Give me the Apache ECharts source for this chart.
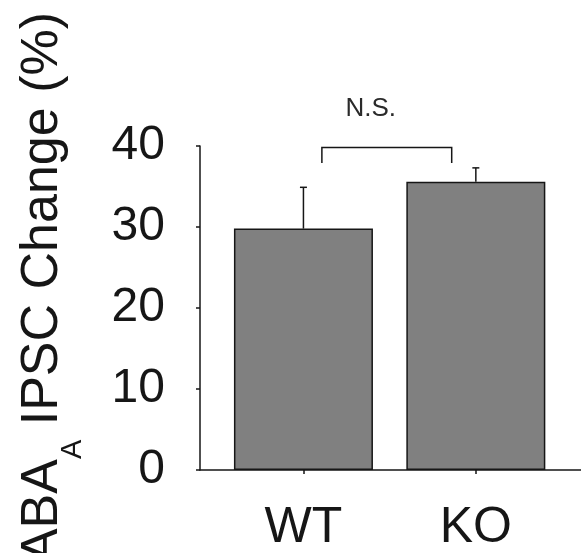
<!DOCTYPE html>
<html>
<head>
<meta charset="utf-8">
<script src="https://cdn.jsdelivr.net/npm/echarts@6/dist/echarts.min.js"></script>
<style>
  html, body { margin: 0; padding: 0; background: #ffffff; }
  #chart { width: 581px; height: 553px; }
</style>
</head>
<body>
<div id="chart"></div>
<script>
// Groups and their positions on the x axis
const categories = ['WT', 'KO'];
const categoryPos = [1, 2];

// Mean GABA-A IPSC change (%) and the upper error (SEM)
const meanChange = [29.8, 35.6];
const semChange = [5.1, 1.7];

// Y-axis tick values
const yTicks = [0, 10, 20, 30, 40];

// Significance annotation between the two groups
const sigLabel = 'N.S.';
const sigBracketX = [1.107, 1.86];
const sigBracketY = [37.9, 39.8];
const sigLabelPos = [1.39, 44.6];

const ink = '#161616';
const fontFamily = '"Liberation Sans", Arial, sans-serif';

const chart = echarts.init(document.getElementById('chart'), null, { renderer: 'canvas' });

const barData = categoryPos.map((x, i) => [x, meanChange[i]]);
const errData = categoryPos.map((x, i) => [x, meanChange[i], semChange[i]]);

chart.setOption({
  backgroundColor: '#ffffff',
  animation: false,
  grid: { left: 200, right: 0, top: 146, bottom: 81, containLabel: false },
  xAxis: {
    type: 'value',
    min: 0.4,
    max: 2.61,
    splitLine: { show: false },
    axisLine: { show: true, lineStyle: { color: ink, width: 1.5 } },
    axisTick: { show: true, customValues: categoryPos, length: 4, inside: false, lineStyle: { color: ink, width: 1.5 } },
    axisLabel: {
      show: true,
      customValues: categoryPos,
      margin: 33,
      fontSize: 50,
      fontFamily: fontFamily,
      color: ink,
      formatter: v => categories[categoryPos.indexOf(Math.round(v))] || ''
    }
  },
  yAxis: {
    type: 'value',
    min: yTicks[0],
    max: yTicks[yTicks.length - 1],
    interval: 10,
    splitLine: { show: false },
    axisLine: { show: true, lineStyle: { color: ink, width: 1.5 } },
    axisTick: { show: true, length: 4, inside: false, lineStyle: { color: ink, width: 1.5 } },
    axisLabel: { margin: 35, fontSize: 48, fontFamily: fontFamily, color: ink }
  },
  graphic: [{
    type: 'text',
    x: 43,
    y: 12,
    rotation: Math.PI / 2,
    style: {
      text: 'GABA{sub|A} IPSC Change (%)',
      font: '52px ' + fontFamily,
      fill: ink,
      align: 'right',
      verticalAlign: 'middle',
      rich: {
        sub: { fontSize: 29, fontFamily: fontFamily, fill: ink, padding: [60, 0, 0, 0] }
      }
    }
  }],
  series: [
    {
      type: 'bar',
      data: barData,
      barWidth: 139,
      itemStyle: { color: '#808080', borderColor: ink, borderWidth: 1.5 },
      z: 2
    },
    {
      type: 'custom',
      data: errData,
      z: 3,
      renderItem: (params, api) => {
        const x = api.value(0), m = api.value(1), e = api.value(2);
        const base = api.coord([x, m]);
        const top = api.coord([x, m + e]);
        const st = { stroke: ink, lineWidth: 1.5 };
        return {
          type: 'group',
          children: [
            { type: 'line', shape: { x1: base[0], y1: base[1], x2: top[0], y2: top[1] }, style: st },
            { type: 'line', shape: { x1: top[0] - 3.5, y1: top[1], x2: top[0] + 3.5, y2: top[1] }, style: st }
          ]
        };
      }
    },
    {
      type: 'custom',
      clip: false,
      data: [[sigBracketX[0], sigBracketX[1], sigBracketY[0], sigBracketY[1], sigLabelPos[0], sigLabelPos[1]]],
      z: 3,
      renderItem: (params, api) => {
        const p1 = api.coord([api.value(0), api.value(2)]);
        const p2 = api.coord([api.value(0), api.value(3)]);
        const p3 = api.coord([api.value(1), api.value(3)]);
        const p4 = api.coord([api.value(1), api.value(2)]);
        const lp = api.coord([api.value(4), api.value(5)]);
        return {
          type: 'group',
          children: [
            { type: 'polyline', shape: { points: [p1, p2, p3, p4] }, style: { stroke: ink, lineWidth: 1.5, fill: null } },
            { type: 'text', x: lp[0], y: lp[1], style: { text: sigLabel, font: '26px ' + fontFamily, fill: '#2a2a2a', align: 'center', verticalAlign: 'middle' } }
          ]
        };
      }
    }
  ]
});
</script>
</body>
</html>
